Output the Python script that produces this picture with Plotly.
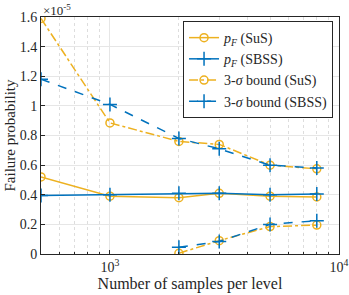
import plotly.graph_objects as go

# samples per level
n_samples = [500, 1000, 2000, 3000, 5000, 8000]
n_lower = [2000, 3000, 5000, 8000]

# values in units of 1e-5
pf_sus = [0.52, 0.39, 0.38, 0.41, 0.39, 0.385]
pf_sbss = [0.395, 0.40, 0.41, 0.41, 0.40, 0.405]
up_sus = [1.59, 0.885, 0.76, 0.74, 0.60, 0.575]
up_sbss = [1.18, 1.01, 0.78, 0.71, 0.60, 0.58]
lo_sus = [0.005, 0.09, 0.185, 0.195]
lo_sbss = [0.045, 0.085, 0.20, 0.225]

y_ticks = [0, 0.2, 0.4, 0.6, 0.8, 1.0, 1.2, 1.4, 1.6]
y_ticktext = ["0", "0.2", "0.4", "0.6", "0.8", "1", "1.2", "1.4", "1.6"]
x_ticks = [1000, 10000]
x_ticktext = ["10<sup>3</sup>", "10<sup>4</sup>"]
x_minor = [600, 700, 800, 900, 2000, 3000, 4000, 5000, 6000, 7000, 8000, 9000]

YEL = "#EDB120"
BLU = "#0072BD"
FONT = "Liberation Serif, Times New Roman, serif"

fig = go.Figure()
fig.add_trace(go.Scatter(x=n_samples, y=pf_sus, mode="lines+markers",
                         name="<i>p<sub>F</sub></i> (SuS)",
                         line=dict(color=YEL, width=1.5),
                         marker=dict(symbol="circle-open", size=8, color=YEL, line=dict(width=1.5))))
fig.add_trace(go.Scatter(x=n_samples, y=pf_sbss, mode="lines+markers",
                         name="<i>p<sub>F</sub></i> (SBSS)",
                         line=dict(color=BLU, width=1.5),
                         marker=dict(symbol="cross-thin", size=10, color=BLU, line=dict(width=1.5, color=BLU))))
fig.add_trace(go.Scatter(x=n_samples + [None] + n_lower, y=up_sus + [None] + lo_sus,
                         mode="lines+markers", name="3-<i>σ</i> bound (SuS)",
                         line=dict(color=YEL, width=1.5, dash="dashdot"),
                         marker=dict(symbol="circle-open", size=8, color=YEL, line=dict(width=1.5))))
fig.add_trace(go.Scatter(x=n_samples + [None] + n_lower, y=up_sbss + [None] + lo_sbss,
                         mode="lines+markers", name="3-<i>σ</i> bound (SBSS)",
                         line=dict(color=BLU, width=1.5, dash="dash"),
                         marker=dict(symbol="cross-thin", size=10, color=BLU, line=dict(width=1.5, color=BLU))))

axis_common = dict(showline=True, linecolor="#262626", linewidth=1, mirror=True,
                   ticks="inside", ticklen=4, tickcolor="#262626", automargin=False,
                   gridcolor="#E6E6E6", gridwidth=1, zeroline=False,
                   tickfont=dict(family=FONT, size=14, color="#262626"))

fig.update_layout(
    width=349, height=295,
    margin=dict(l=41, r=10, t=17, b=41),
    paper_bgcolor="white", plot_bgcolor="white",
    font=dict(family=FONT, size=14, color="#262626"),
    showlegend=True,
    legend=dict(x=0.98, y=0.983, xanchor="right", yanchor="top",
                bgcolor="white", bordercolor="#262626", borderwidth=1,
                font=dict(family=FONT, size=14, color="#262626"),
                tracegroupgap=0, itemwidth=30),
    xaxis=dict(type="log", range=[2.69897, 4], tickmode="array", tickvals=x_ticks,
               ticktext=x_ticktext,
               title=dict(text="Number of samples per level", standoff=0,
                          font=dict(family=FONT, size=16)),
               minor=dict(tickmode="array", tickvals=x_minor, ticks="inside", ticklen=2,
                          tickcolor="#262626", showgrid=True, gridcolor="#DDDDDD", griddash="dot"),
               **axis_common),
    yaxis=dict(range=[0, 1.6], tickmode="array", tickvals=y_ticks, ticktext=y_ticktext,
               title=dict(text="Failure probability", standoff=0,
                          font=dict(family=FONT, size=15)),
               **axis_common),
)
fig.add_annotation(text="×10<sup>-5</sup>", xref="paper", yref="paper", x=0.0, y=1.0,
                   xanchor="left", yanchor="bottom", showarrow=False,
                   font=dict(family=FONT, size=13, color="#262626"), yshift=-3)

fig.write_html("out.html", config={"displayModeBar": False},
               post_script="document.body.style.margin='0';")
